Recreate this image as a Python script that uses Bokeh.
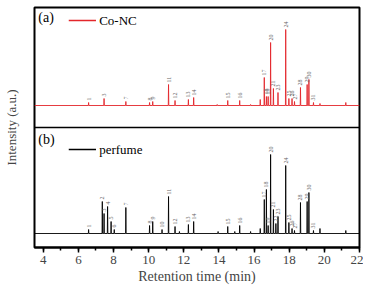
import numpy as np
from bokeh.plotting import figure
from bokeh.models import Range1d, SingleIntervalTicker, FixedTicker, Span, Label, ColumnDataSource
from bokeh.core.properties import value
from bokeh.embed import file_html
from bokeh.resources import INLINE

# ---- data ----
peak_ids = list(range(1, 32))
peak_times = [6.58, 7.36, 7.46, 7.66, 7.86, 8.04, 8.70, 10.05, 10.23, 10.76, 11.13,
              11.50, 12.26, 12.56, 14.50, 15.18, 16.58, 16.70, 16.80, 16.94, 17.10,
              17.24, 17.36, 17.80, 17.98, 18.16, 18.30, 18.64, 19.02, 19.12, 19.38]

# perfume (b) peak heights, a.u.
perfume_heights = [4, 32, 20, 27, 12, 4, 26, 8, 12, 4, 37,
                   7, 9, 12, 7, 8, 34, 44, 8, 79, 24,
                   10, 17, 68, 11, 5, 3, 31, 32, 41, 3]
perfume_extra_t = [11.75, 13.95, 14.90, 15.80, 16.35, 19.75, 21.22]
perfume_extra_h = [2, 2, 2, 2, 5, 5, 3]

# Co-NC (a) peak heights, a.u. (0 = not detected)
conc_heights = [3, 0, 7, 0, 0, 0, 4, 3, 4, 0, 21,
                5, 6, 8, 5, 5, 28, 9, 9, 63, 17,
                0, 13, 76, 7, 7, 4, 18, 21, 26, 3]
conc_extra_t = [13.9, 15.8, 16.35, 19.75, 21.22]
conc_extra_h = [1, 1, 6, 2, 3]

x_min, x_max = 3.5, 22.0

# ---- layout constants ----
TOP_BASE = 142
BOT_BASE = 14
HALF_W = 0.015
RED = "#e3262b"
SERIF = "Liberation Serif"


def trace(times, heights, et, eh, base):
    pts = sorted([(t, h) for t, h in zip(times, heights) if h > 0] +
                 list(zip(et, eh)))
    xs, ys = [x_min], [base]
    for t, h in pts:
        xs += [t - HALF_W, t, t + HALF_W]
        ys += [base, base + h, base]
    xs.append(x_max)
    ys.append(base)
    return xs, ys


p = figure(width=363, height=287, output_backend="svg", toolbar_location=None,
           x_range=Range1d(x_min, x_max), y_range=Range1d(0, 240),
           min_border_left=33, min_border_right=4, min_border_top=7,
           min_border_bottom=40)
p.grid.visible = False
p.outline_line_color = "black"
p.outline_line_width = 2
p.background_fill_color = "white"
p.border_fill_color = "white"

# traces
xa, ya = trace(peak_times, conc_heights, conc_extra_t, conc_extra_h, TOP_BASE)
p.line(xa, ya, line_color=RED, line_width=0.9)
xb, yb = trace(peak_times, perfume_heights, perfume_extra_t, perfume_extra_h, BOT_BASE)
p.line(xb, yb, line_color="black", line_width=0.9)

# divider between panels
p.add_layout(Span(location=120, dimension="width", line_color="black", line_width=1.5))

# peak number labels
la = [(t, TOP_BASE + h + 2, str(i)) for i, t, h in zip(peak_ids, peak_times, conc_heights)
      if h > 0]
lb = [(t, BOT_BASE + h + 2, str(i)) for i, t, h in zip(peak_ids, peak_times, perfume_heights)]
for rows in (la, lb):
    src = ColumnDataSource(dict(x=[r[0] for r in rows], y=[r[1] for r in rows],
                                t=[r[2] for r in rows]))
    p.text(x="x", y="y", text="t", source=src, angle=np.pi / 2,
           text_font=value(SERIF), text_font_size="6px", text_color="#666666",
           text_align="left", text_baseline="middle")

# panel legends
p.add_layout(Label(x=3.72, y=230, text="(a)", text_font=SERIF, text_font_size="14px",
                   text_baseline="middle", text_color="black"))
p.line([5.45, 7.0], [227, 227], line_color=RED, line_width=1.3)
p.add_layout(Label(x=7.18, y=227, text="Co-NC", text_font=SERIF, text_font_size="13px",
                   text_baseline="middle", text_color="black"))
p.add_layout(Label(x=3.72, y=108, text="(b)", text_font=SERIF, text_font_size="14px",
                   text_baseline="middle", text_color="black"))
p.line([5.45, 7.0], [98, 98], line_color="black", line_width=1.3)
p.add_layout(Label(x=7.18, y=98, text="perfume", text_font=SERIF, text_font_size="13px",
                   text_baseline="middle", text_color="black"))

# axes
xa_ = p.xaxis[0]
xa_.ticker = SingleIntervalTicker(interval=2, num_minor_ticks=2)
xa_.axis_label = "Retention time (min)"
xa_.axis_label_text_font = SERIF
xa_.axis_label_text_font_style = "normal"
xa_.axis_label_text_font_size = "14px"
xa_.axis_label_standoff = 2
xa_.major_label_text_font = SERIF
xa_.major_label_text_font_style = "normal"
xa_.major_label_text_font_size = "13px"
xa_.major_label_standoff = 3
xa_.axis_line_width = 2
xa_.major_tick_in = 0
xa_.major_tick_out = 5
xa_.minor_tick_in = 0
xa_.minor_tick_out = 3
xa_.major_tick_line_width = 1.5
xa_.minor_tick_line_width = 1.5

ya_ = p.yaxis[0]
ya_.ticker = FixedTicker(ticks=[])
ya_.axis_label = "Intensity (a.u.)"
ya_.axis_label_text_font = SERIF
ya_.axis_label_text_font_style = "normal"
ya_.axis_label_text_font_size = "13px"
ya_.axis_label_standoff = 16
ya_.major_label_standoff = 0
ya_.major_tick_out = 0
ya_.major_tick_in = 0
ya_.minor_tick_out = 0
ya_.minor_tick_in = 0
ya_.axis_line_color = None

open("out.html", "w").write(file_html(p, INLINE))
